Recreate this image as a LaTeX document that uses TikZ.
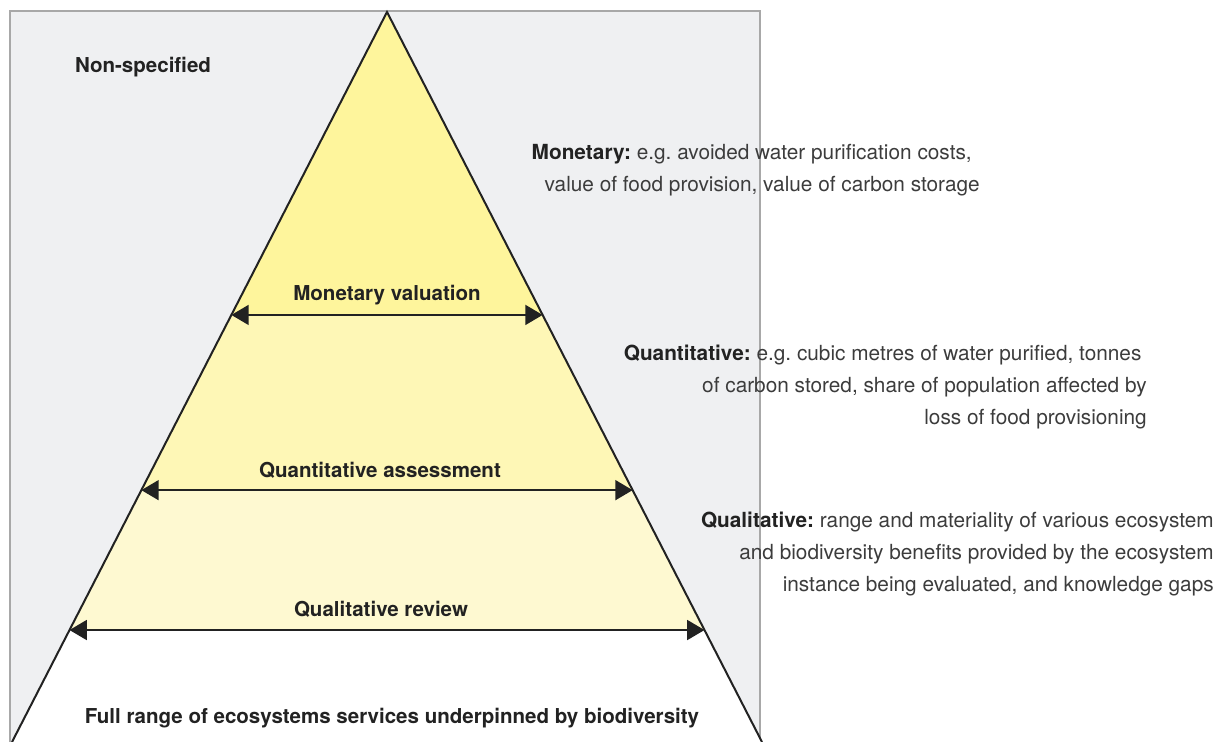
\documentclass[tikz,border=0pt]{standalone}
\usepackage{fontspec}
\setmainfont{TeX Gyre Heros}
\usetikzlibrary{positioning}
\usetikzlibrary{arrows.meta}
\usetikzlibrary{calc}
\definecolor{bggray}{HTML}{EFF0F2}
\definecolor{framegray}{HTML}{A8A8A8}
\definecolor{ink}{HTML}{222222}
\definecolor{bodyink}{HTML}{3C3C3C}
\definecolor{bandone}{HTML}{FEF59C}
\definecolor{bandtwo}{HTML}{FEF7B6}
\definecolor{bandthree}{HTML}{FEF9D1}
\frenchspacing

\begin{document}
\begin{tikzpicture}[x=0.75pt,y=-0.75pt]
\tikzset{span/.style={draw=ink, line width=1.3pt, {Triangle[length=13pt,width=15pt]}-{Triangle[length=13pt,width=15pt]}}}
\tikzset{level/.style={font=\fontsize{15.4}{18}\selectfont\bfseries, text=ink, inner sep=0pt}}
\tikzset{note/.style={font=\fontsize{15.6}{24}\selectfont, text=bodyink, align=right, inner sep=0pt, anchor=east}}
\useasboundingbox (0,0) rectangle (1217,742);
% background panel
\fill[bggray] (10,11) rectangle (760,742);
\draw[framegray, line width=0.8pt] (10,742) -- (10,11) -- (760,11) -- (760,742);
% pyramid corners and band edges
\coordinate (apex) at (387,12);
\coordinate (baseL) at (12,742);
\coordinate (baseR) at (762,742);
\coordinate (monL) at ($(apex)!0.415!(baseL)$);
\coordinate (monR) at ($(apex)!0.415!(baseR)$);
\coordinate (quanL) at ($(apex)!0.655!(baseL)$);
\coordinate (quanR) at ($(apex)!0.655!(baseR)$);
\coordinate (qualL) at ($(apex)!0.8466!(baseL)$);
\coordinate (qualR) at ($(apex)!0.8466!(baseR)$);
% bands
\fill[bandone] (apex) -- (monL) -- (monR) -- cycle;
\fill[bandtwo] (monL) -- (quanL) -- (quanR) -- (monR) -- cycle;
\fill[bandthree] (quanL) -- (qualL) -- (qualR) -- (quanR) -- cycle;
\fill[white] (qualL) -- (baseL) -- (baseR) -- (qualR) -- cycle;
\draw[ink, line width=1.5pt, line join=miter] (baseL) -- (apex) -- (baseR);
% spans
\draw[span] (monL) -- (monR);
\draw[span] (quanL) -- (quanR);
\draw[span] (qualL) -- (qualR);
% level labels
\node[level] (monlabel) at (387,295) {Monetary valuation};
\node[level] (quanlabel) at (380,470) {Quantitative assessment};
\node[level] (quallabel) at (381,609) {Qualitative review};
\node[level] (fullrange) at (392,718) {Full range of ecosystems services underpinned by biodiversity};
\node[level] (nonspec) at (143,67) {Non-specified};
% notes
\node[note] (monnote) at (980,170) {{\bfseries\color{ink}Monetary:} e.g. avoided water purification costs,\hspace*{6pt}\\value of food provision, value of carbon storage};
\node[note] (quannote) at (1147,387) {{\bfseries\color{ink}Quantitative:} e.g. cubic metres of water purified, tonnes\hspace*{4pt}\\of carbon stored, share of population affected by\hspace*{3pt}\\loss of food provisioning};
\node[note] (qualnote) at (1214,554) {{\bfseries\color{ink}Qualitative:} range and materiality of various ecosystem\\and biodiversity benefits provided by the ecosystem\\instance being evaluated, and knowledge gaps};
\end{tikzpicture}
\end{document}
